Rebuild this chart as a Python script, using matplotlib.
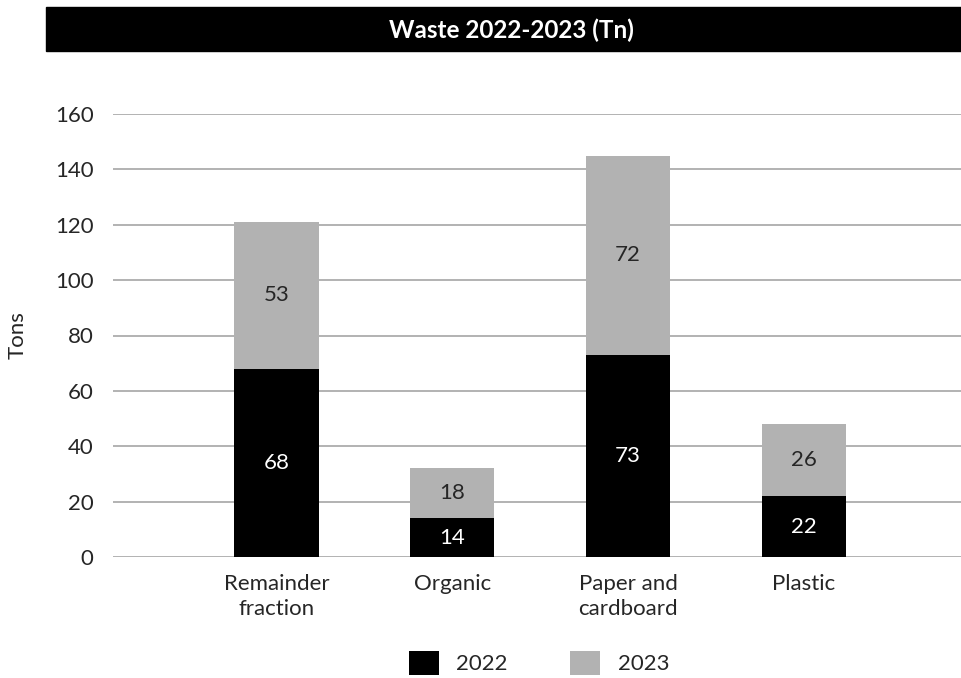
import numpy as np
import matplotlib
matplotlib.use("Agg")
import matplotlib.pyplot as plt
from matplotlib.patches import Rectangle

plt.rcParams['font.family'] = ['Lato', 'DejaVu Sans']

# waste per category, tons
categories = ["Remainder\nfraction", "Organic", "Paper and\ncardboard", "Plastic"]
waste_2022 = [68, 14, 73, 22]
waste_2023 = [53, 18, 72, 26]
years = ["2022", "2023"]
y_ticks = [0, 20, 40, 60, 80, 100, 120, 140, 160]

col_2022 = "#000000"
col_2023 = "#b2b2b2"
txt = "#262626"
fs = 16

fig = plt.figure(figsize=(9.62, 6.78), dpi=100)
ax = fig.add_axes([113/962, 1 - 557/678, 1 - 113/962, (557 - 114)/678])

# black title band
fig.patches.append(Rectangle((46/962, 1 - 51/678), 1 - 46/962, 44/678,
                             transform=fig.transFigure, color="black", zorder=0))
fig.text(511/962, 1 - 30/678, "Waste 2022-2023 (Tn)", color="white",
         fontsize=17.5, fontweight="bold", ha="center", va="center")

x = np.arange(len(categories))
w = 0.48
ax.bar(x, waste_2022, w, color=col_2022, label=years[0], zorder=3)
ax.bar(x, waste_2023, w, bottom=waste_2022, color=col_2023, label=years[1], zorder=3)

for i in range(len(categories)):
    ax.text(x[i], waste_2022[i]/2, str(waste_2022[i]), color="white",
            ha="center", va="center", fontsize=fs, zorder=4)
    ax.text(x[i], waste_2022[i] + waste_2023[i]/2, str(waste_2023[i]), color=txt,
            ha="center", va="center", fontsize=fs, zorder=4)

ax.set_ylim(0, 160)
ax.set_xlim(-0.93, 3.9)
ax.set_yticks(y_ticks)
ax.set_xticks(x)
ax.set_xticklabels(categories, fontsize=fs, color=txt, linespacing=1.35)
ax.tick_params(axis="y", labelsize=fs, labelcolor=txt, length=0, pad=14)
ax.tick_params(axis="x", length=0, pad=12)
ax.yaxis.grid(True, color="#a6a6a6", linewidth=1.2, zorder=0)
ax.set_axisbelow(True)
for s in ax.spines.values():
    s.set_visible(False)

fig.text(18/962, 1 - 335/678, "Tons", rotation=90, ha="center", va="center",
         fontsize=fs, color=txt)

ax.legend(loc="center", bbox_to_anchor=(539/962, 1 - 663/678),
          bbox_transform=fig.transFigure, ncol=2, frameon=False,
          fontsize=fs, handlelength=1.35, handleheight=1.35,
          handletextpad=0.8, columnspacing=2.8, labelcolor=txt)

fig.savefig("out.png", dpi=100)
